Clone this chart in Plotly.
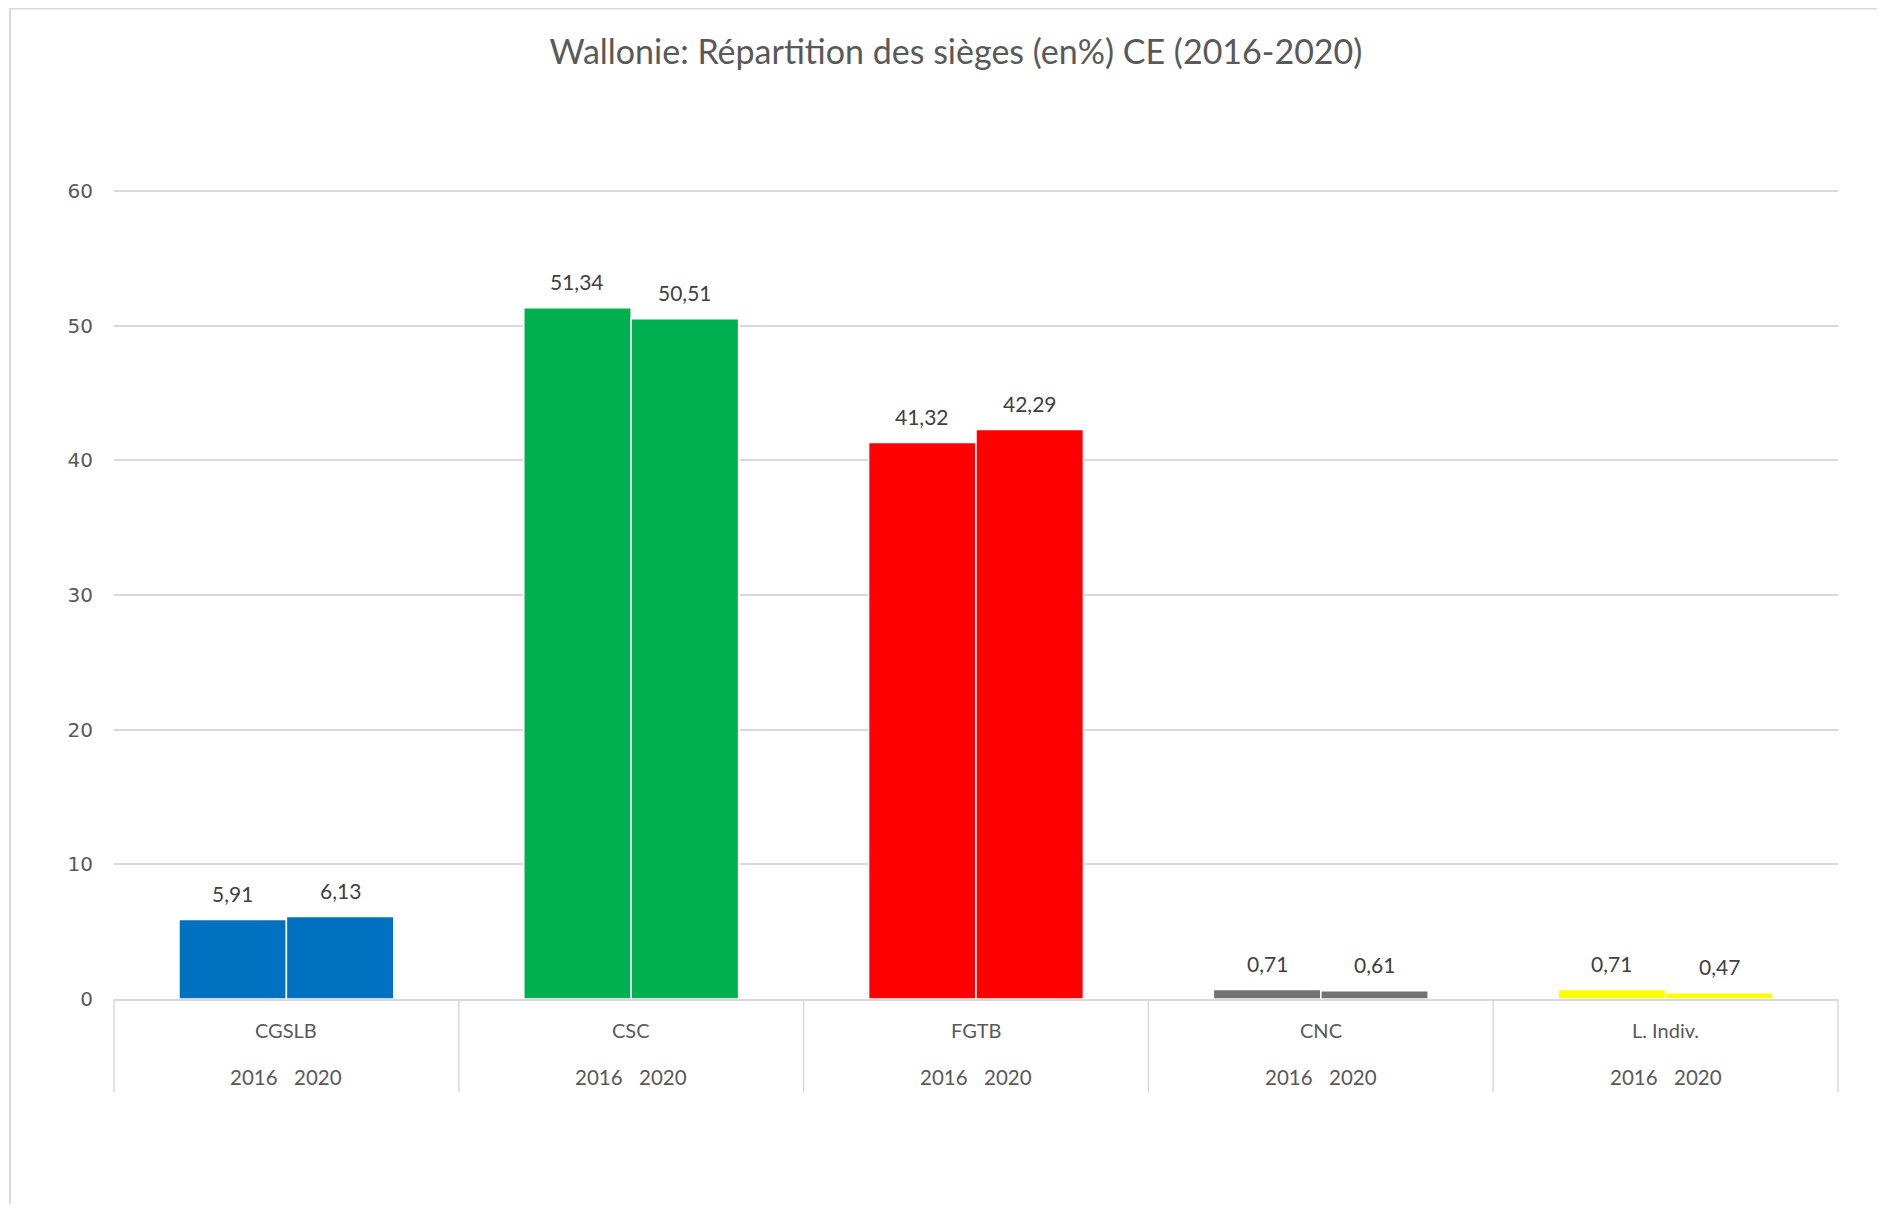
import plotly.graph_objects as go

categories = ["CGSLB", "CSC", "FGTB", "CNC", "L. Indiv."]
years = ["2016", "2020"]
values_2016 = [5.91, 51.34, 41.32, 0.71, 0.71]
values_2020 = [6.13, 50.51, 42.29, 0.61, 0.47]
colors = ["#0070C0", "#00B050", "#FF0000", "#767171", "#FFFF00"]
y_ticks = [0, 10, 20, 30, 40, 50, 60]
title = "Wallonie: Répartition des sièges (en%) CE (2016-2020)"

OFF = 8  # page body margin
W, H = 1869, 1196
L, R, T, B = 114 - OFF, 1838 - OFF, 190 - OFF, 999 - OFF
pw, ph = R - L, B - T
bargap = 0.377
n = len(categories)
bar_w = pw / n * (1 - bargap) / 2

fig = go.Figure()
for yr, vals in zip(years, [values_2016, values_2020]):
    fig.add_trace(go.Bar(
        x=categories, y=vals, name=yr,
        marker=dict(color=colors, line=dict(color="white", width=1.5)),
        showlegend=False, hoverinfo="x+y",
    ))

def px_x(p):
    return (p - OFF - L) / pw

def px_y(p):
    return (B - (p - OFF)) / ph

shapes = []
for i in range(n + 1):
    xp = i / n
    shapes.append(dict(type="line", xref="paper", yref="paper", x0=xp, x1=xp,
                       y0=0, y1=px_y(1092), line=dict(color="#d9d9d9", width=1.5)))
# outer chart border
shapes.append(dict(type="rect", xref="paper", yref="paper",
                   x0=px_x(10), x1=px_x(1920), y0=px_y(1250), y1=px_y(8.5),
                   line=dict(color="#d9d9d9", width=2), fillcolor="rgba(0,0,0,0)", layer="below"))

annotations = []
for i, c in enumerate(categories):
    annotations.append(dict(x=c, xref="x", y=px_y(1030), yref="paper", text=c, showarrow=False,
                            font=dict(family="Lato", size=20, color="#595959"), yanchor="middle"))
    for yr, sh in zip(years, [-32, 32]):
        annotations.append(dict(x=c, xref="x", y=px_y(1077), yref="paper", text=yr, showarrow=False,
                                xshift=sh, font=dict(family="Lato", size=20.5, color="#595959"),
                                yanchor="middle"))
    for vals, sh in zip([values_2016, values_2020], [-bar_w / 2, bar_w / 2]):
        annotations.append(dict(x=c, xref="x", y=vals[i], yref="y",
                                text=f"{vals[i]:.2f}".replace(".", ","), showarrow=False,
                                xshift=sh, yshift=26, yanchor="middle",
                                font=dict(family="Lato", size=21, color="#404040")))

fig.update_layout(
    width=W, height=H,
    margin=dict(l=L, r=W - R, t=T, b=H - B, autoexpand=False),
    paper_bgcolor="white", plot_bgcolor="white",
    separators=", ",
    barmode="group", bargap=bargap, bargroupgap=0,
    title=dict(text=title, x=(956 - OFF) / W, xanchor="center", y=1 - (52 - OFF) / H, yanchor="middle",
               font=dict(family="Lato", size=34, color="#595959")),
    xaxis=dict(showticklabels=False, showgrid=False, zeroline=False,
               showline=True, linecolor="#d9d9d9", linewidth=1.5, ticks=""),
    yaxis=dict(range=[0, 60.08], tickvals=y_ticks, showgrid=True, gridcolor="#d9d9d9", gridwidth=1.5,
               zeroline=False, showline=False, ticks="outside", ticklen=16,
               tickcolor="rgba(0,0,0,0)",
               tickfont=dict(family="DejaVu Sans", size=20, color="#595959")),
    shapes=shapes, annotations=annotations,
)
fig.write_html("out.html")
